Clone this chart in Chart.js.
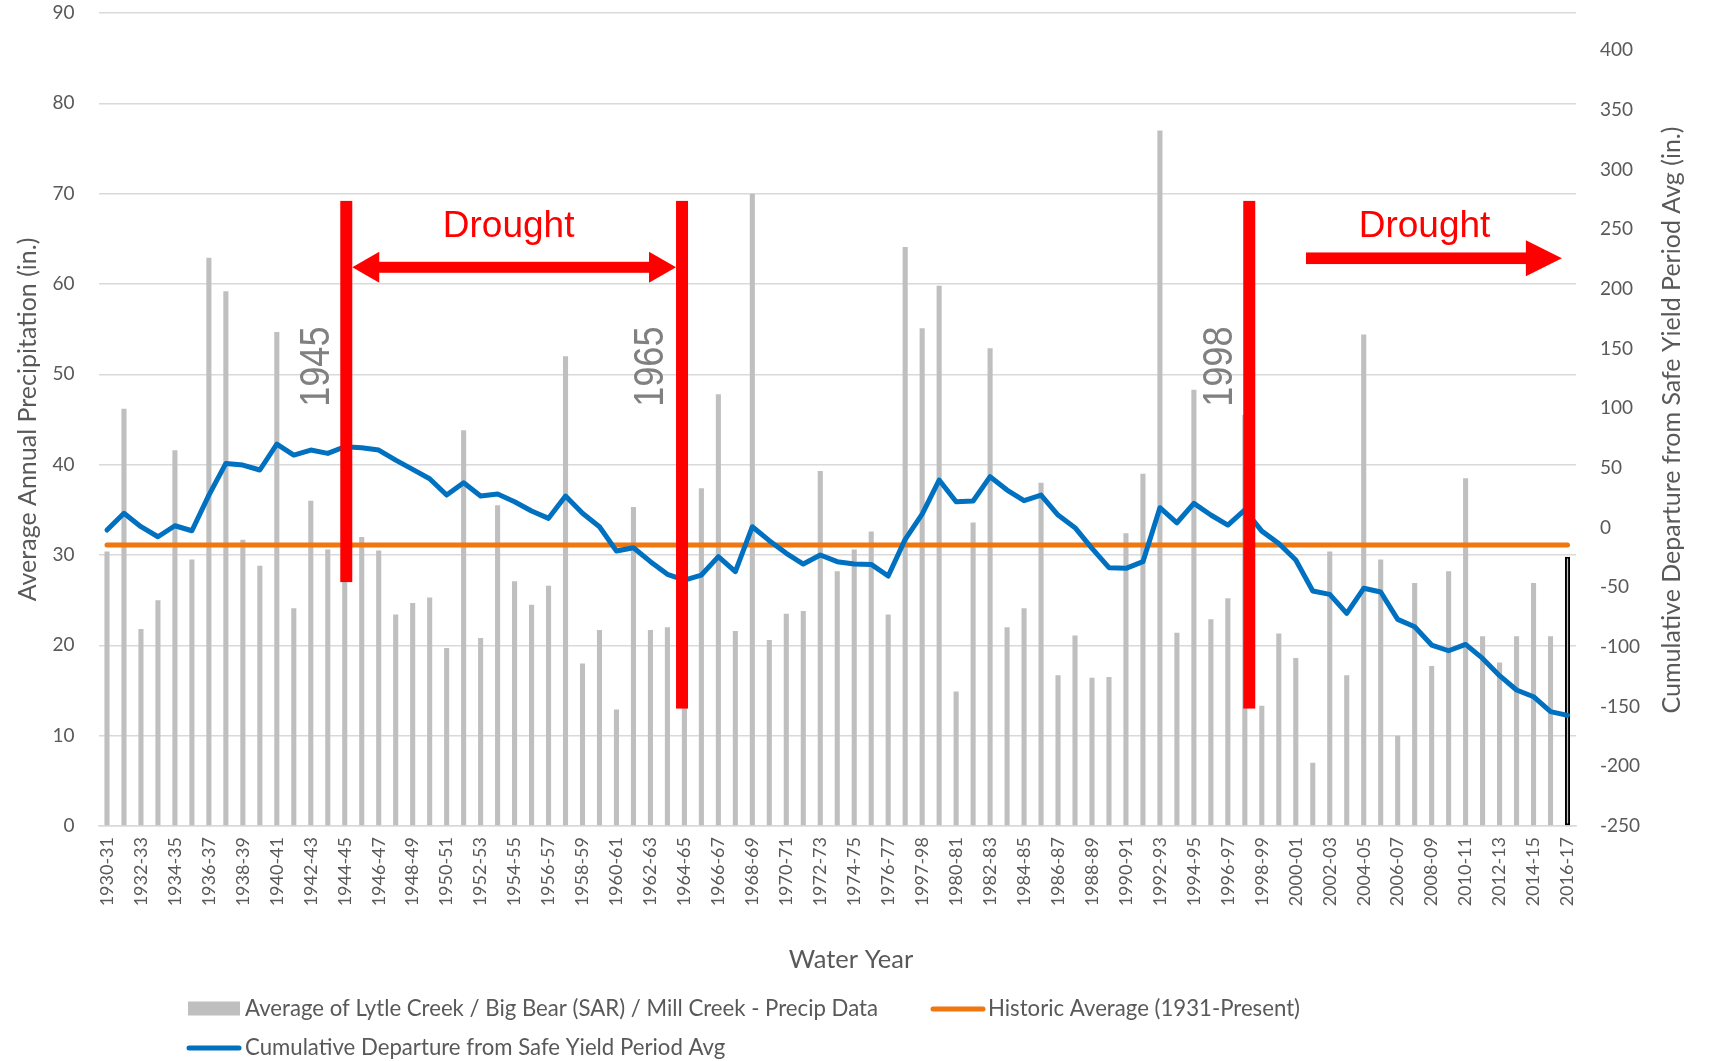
<!DOCTYPE html>
<html>
<head>
<meta charset="utf-8">
<script src="https://cdn.jsdelivr.net/npm/chart.js@4.4.1/dist/chart.umd.min.js"></script>
<style>
html,body{margin:0;padding:0;background:#ffffff;}
#wrap{width:1716px;height:1061px;position:relative;}
</style>
</head>
<body>
<div id="wrap"><canvas id="chart" width="1716" height="1061"></canvas></div>
<script>
// ---------------- DATA ----------------
const categories = [
  '1930-31','1931-32','1932-33','1933-34','1934-35','1935-36','1936-37','1937-38','1938-39','1939-40',
  '1940-41','1941-42','1942-43','1943-44','1944-45','1945-46','1946-47','1947-48','1948-49','1949-50',
  '1950-51','1951-52','1952-53','1953-54','1954-55','1955-56','1956-57','1957-58','1958-59','1959-60',
  '1960-61','1961-62','1962-63','1963-64','1964-65','1965-66','1966-67','1967-68','1968-69','1969-70',
  '1970-71','1971-72','1972-73','1973-74','1974-75','1975-76','1976-77','1977-78','1997-98','1979-80',
  '1980-81','1981-82','1982-83','1983-84','1984-85','1985-86','1986-87','1987-88','1988-89','1989-90',
  '1990-91','1991-92','1992-93','1993-94','1994-95','1995-96','1996-97','1997-98','1998-99','1999-00',
  '2000-01','2001-02','2002-03','2003-04','2004-05','2005-06','2006-07','2007-08','2008-09','2009-10',
  '2010-11','2011-12','2012-13','2013-14','2014-15','2015-16','2016-17'
];

const precipitation = [
  30.4, 46.2, 21.8, 25.0, 41.6, 29.5, 62.9, 59.2, 31.7, 28.8,
  54.7, 24.1, 36.0, 30.6, 38.6, 32.0, 30.5, 23.4, 24.7, 25.3,
  19.7, 43.8, 20.8, 35.5, 27.1, 24.5, 26.6, 52.0, 18.0, 21.7,
  12.9, 35.3, 21.7, 22.0, 28.2, 37.4, 47.8, 21.6, 70.0, 20.6,
  23.5, 23.8, 39.3, 28.2, 30.6, 32.6, 23.4, 64.1, 55.1, 59.8,
  14.9, 33.6, 52.9, 22.0, 24.1, 38.0, 16.7, 21.1, 16.4, 16.5,
  32.4, 39.0, 77.0, 21.4, 48.3, 22.9, 25.2, 45.5, 13.3, 21.3,
  18.6, 7.0, 30.4, 16.7, 54.4, 29.5, 10.0, 26.9, 17.7, 28.2,
  38.5, 21.0, 18.1, 21.0, 26.9, 21.0, 29.8
];

const cumulativeDeparture = [
  -2.1, 11.9, 0.7, -7.7, 1.5, -2.7, 27.2, 53.7, 52.3, 48.2,
  69.9, 60.7, 64.9, 62.1, 67.7, 66.9, 64.9, 56.5, 48.7, 40.9,
  27.2, 37.5, 26.4, 28.1, 21.6, 13.8, 7.7, 26.4, 11.9, 0.7,
  -19.7, -16.9, -28.6, -39.2, -44.0, -39.8, -24.4, -37.0, 0.7, -11.0,
  -21.6, -30.6, -23.0, -28.6, -30.6, -30.9, -40.6, -9.9, 11.3, 39.8,
  21.6, 22.2, 42.6, 31.4, 22.5, 27.2, 10.5, -0.1, -17.4, -33.6,
  -34.2, -28.6, 16.6, 4.0, 20.2, 10.5, 2.1, 14.7, -3.0, -13.3,
  -27.2, -53.2, -56.0, -71.9, -50.9, -54.0, -76.9, -83.1, -98.4, -103.2,
  -97.9, -109.6, -124.1, -136.1, -141.7, -154.2, -157.3
];

const historicAverage = 31.1;

const leftAxisTicks = { min: 0, max: 90, step: 10 };
const rightAxisTicks = { min: -250, max: 431, step: 50 };

const seriesNames = [
  'Average of Lytle Creek / Big Bear (SAR) / Mill Creek - Precip Data',
  'Historic Average (1931-Present)',
  'Cumulative Departure from Safe Yield Period Avg'
];
const axisTitles = {
  x: 'Water Year',
  y: 'Average Annual Precipitation (in.)',
  y1: 'Cumulative Departure from Safe Yield Period Avg (in.)'
};

// drought annotation anchors (category index on x, precipitation value on y)
const droughtLines = [
  { at: 14.09, from: 69.2, to: 27.0 },
  { at: 33.86, from: 69.2, to: 13.0 },
  { at: 67.26, from: 69.2, to: 13.0 }
];
const yearNotes = [
  { text: '1945', at: 12.28, y: 50.85 },
  { text: '1965', at: 31.96, y: 50.85 },
  { text: '1998', at: 65.46, y: 50.85 }
];
const droughtNotes = [
  { text: 'Drought', at: 23.65, y: 65.2 },
  { text: 'Drought', at: 77.58, y: 65.2 }
];
const singleArrow = { from: 70.6, to: 85.67, y: 62.85 };
const doubleArrowY = 61.85;

// ---------------- STYLE ----------------
const GRAY_TEXT = '#595959';
const GRID = '#d9d9d9';
const FONT = 'Lato';

const notesPlugin = {
  id: 'notes',
  afterDatasetsDraw(chart) {
    const { ctx, scales: { x, y } } = chart;
    ctx.save();
    ctx.fillStyle = '#FF0000';
    const linePx = droughtLines.map(m => x.getPixelForValue(m.at));
    droughtLines.forEach((m, i) => {
      const top = y.getPixelForValue(m.from), bot = y.getPixelForValue(m.to);
      ctx.fillRect(linePx[i] - 6, top, 12, bot - top);
    });
    // double arrow between first two lines
    const ay = y.getPixelForValue(doubleArrowY);
    const l = linePx[0] + 6, r = linePx[1] - 6;
    const hl = 27, hh = 15.5, st = 5.5;
    ctx.fillRect(l + hl - 1, ay - st, (r - hl + 1) - (l + hl - 1), st * 2);
    ctx.beginPath();
    ctx.moveTo(l, ay); ctx.lineTo(l + hl, ay - hh); ctx.lineTo(l + hl, ay + hh); ctx.closePath(); ctx.fill();
    ctx.beginPath();
    ctx.moveTo(r, ay); ctx.lineTo(r - hl, ay - hh); ctx.lineTo(r - hl, ay + hh); ctx.closePath(); ctx.fill();
    // single arrow
    const sy = y.getPixelForValue(singleArrow.y);
    const sx0 = x.getPixelForValue(singleArrow.from), sx1 = x.getPixelForValue(singleArrow.to);
    const shl = 36, shh = 18, sst = 5.8;
    ctx.fillRect(sx0, sy - sst, (sx1 - shl + 1) - sx0, sst * 2);
    ctx.beginPath();
    ctx.moveTo(sx1, sy); ctx.lineTo(sx1 - shl, sy - shh); ctx.lineTo(sx1 - shl, sy + shh); ctx.closePath(); ctx.fill();
    // Drought text
    ctx.font = '37px "Liberation Sans", Arial, sans-serif';
    ctx.textAlign = 'center';
    ctx.textBaseline = 'alphabetic';
    droughtNotes.forEach(n => {
      ctx.fillText(n.text, x.getPixelForValue(n.at), y.getPixelForValue(n.y));
    });
    // year labels rotated
    ctx.fillStyle = '#808080';
    ctx.font = '42px "Liberation Sans", Arial, sans-serif';
    ctx.textBaseline = 'middle';
    yearNotes.forEach(n => {
      ctx.save();
      ctx.translate(x.getPixelForValue(n.at), y.getPixelForValue(n.y));
      ctx.rotate(-Math.PI / 2);
      ctx.scale(0.86, 1);
      ctx.fillText(n.text, 0, 2);
      ctx.restore();
    });
    ctx.restore();
  },
  afterDraw(chart) {
    const { ctx } = chart;
    ctx.save();
    ctx.fillStyle = GRAY_TEXT;
    ctx.textAlign = 'center';
    ctx.textBaseline = 'middle';
    // right axis title (reads bottom to top)
    ctx.font = '25px ' + FONT;
    ctx.save();
    ctx.translate(1672, 420);
    ctx.rotate(-Math.PI / 2);
    ctx.fillText(axisTitles.y1, 0, 0);
    ctx.restore();
    // x axis title
    ctx.font = '25.5px ' + FONT;
    ctx.fillText(axisTitles.x, 851, 960);
    // legend
    ctx.font = '22.2px ' + FONT;
    ctx.textAlign = 'left';
    ctx.fillStyle = '#bfbfbf';
    ctx.fillRect(188, 1001.5, 52, 14);
    ctx.lineCap = 'round';
    ctx.lineWidth = 5;
    ctx.strokeStyle = '#F0760F';
    ctx.beginPath(); ctx.moveTo(933, 1009); ctx.lineTo(983, 1009); ctx.stroke();
    ctx.strokeStyle = '#0070C0';
    ctx.beginPath(); ctx.moveTo(189, 1048); ctx.lineTo(239, 1048); ctx.stroke();
    ctx.fillStyle = GRAY_TEXT;
    ctx.fillText(seriesNames[0], 245, 1009);
    ctx.fillText(seriesNames[1], 988, 1009);
    ctx.fillText(seriesNames[2], 245, 1048);
    ctx.restore();
  }
};

new Chart(document.getElementById('chart'), {
  type: 'bar',
  data: {
    labels: categories,
    datasets: [
      {
        type: 'line',
        label: seriesNames[2],
        data: cumulativeDeparture,
        yAxisID: 'y1',
        borderColor: '#0070C0',
        borderWidth: 5,
        pointRadius: 0,
        tension: 0,
        borderJoinStyle: 'round',
        borderCapStyle: 'round',
        order: 1
      },
      {
        type: 'line',
        label: seriesNames[1],
        data: categories.map(() => historicAverage),
        yAxisID: 'y',
        borderColor: '#F0760F',
        borderWidth: 5,
        pointRadius: 0,
        borderCapStyle: 'round',
        order: 2
      },
      {
        type: 'bar',
        label: seriesNames[0],
        data: precipitation,
        yAxisID: 'y',
        backgroundColor: '#bfbfbf',
        borderColor: '#000000',
        borderWidth: c => (c.dataIndex === precipitation.length - 1 ? 2 : 0),
        borderSkipped: false,
        barPercentage: 0.3,
        categoryPercentage: 1,
        order: 3
      }
    ]
  },
  options: {
    responsive: false,
    animation: false,
    devicePixelRatio: 1,
    layout: { padding: { top: 13, bottom: 80, left: 0, right: 0 } },
    plugins: { legend: { display: false }, tooltip: { enabled: false } },
    scales: {
      x: {
        type: 'category',
        offset: true,
        grid: { display: false, drawTicks: false },
        border: { display: true, color: GRID, width: 1.5 },
        ticks: {
          autoSkip: false, maxRotation: 90, minRotation: 90, padding: 11,
          color: GRAY_TEXT, font: { family: FONT, size: 18 },
          callback: (v, i) => (i % 2 === 0 ? categories[i] : '')
        },
        title: { display: false },
        afterFit(s) { s.height = 155; s.paddingLeft = 0; s.paddingRight = 0; }
      },
      y: {
        position: 'left',
        min: leftAxisTicks.min, max: leftAxisTicks.max,
        grid: { color: GRID, lineWidth: 1.5, drawTicks: false },
        border: { display: false },
        ticks: { stepSize: leftAxisTicks.step, padding: 24, color: GRAY_TEXT, font: { family: FONT, size: 19 } },
        title: { display: true, text: axisTitles.y, color: GRAY_TEXT, font: { family: FONT, size: 25 }, padding: { top: 12.5, bottom: 0 } },
        afterFit(s) { s.width = 98.5; s.paddingTop = 0; s.paddingBottom = 0; }
      },
      y1: {
        position: 'right',
        min: rightAxisTicks.min, max: rightAxisTicks.max,
        grid: { display: false, drawTicks: false },
        border: { display: false },
        ticks: { stepSize: rightAxisTicks.step, includeBounds: false, padding: 24, color: GRAY_TEXT, font: { family: FONT, size: 19 } },
        afterFit(s) { s.width = 140; s.paddingTop = 0; s.paddingBottom = 0; }
      }
    }
  },
  plugins: [notesPlugin]
});
</script>
</body>
</html>
